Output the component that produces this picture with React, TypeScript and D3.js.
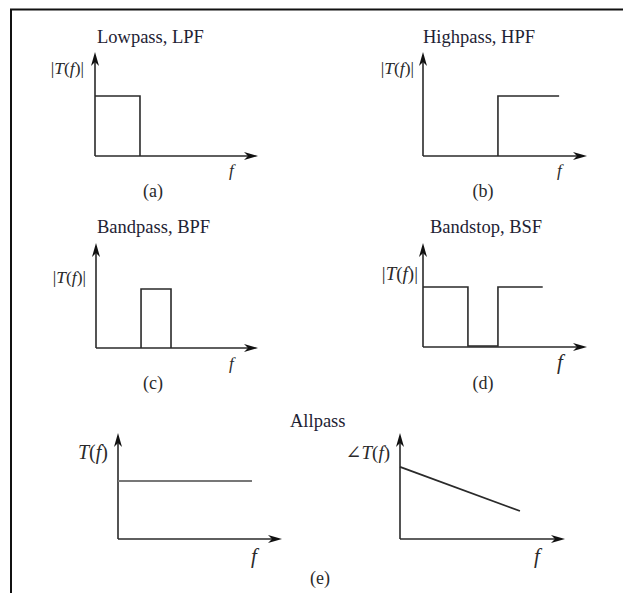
import React from 'react';
import * as d3 from 'd3';

// Response shapes, normalized: f runs 0..1 along the axis, magnitude 0..1 up the axis
const lowpass: [number, number][] = [[0, 0.577], [0.276, 0.577], [0.276, 0]];
const highpass: [number, number][] = [[0.457, 0], [0.457, 0.577], [0.83, 0.577]];
const bandpass: [number, number][] = [[0.278, 0], [0.278, 0.562], [0.463, 0.562], [0.463, 0]];
const bandstop: [number, number][] = [[0, 0.577], [0.274, 0.577], [0.274, 0.01], [0.457, 0.01], [0.457, 0.577], [0.73, 0.577]];
const allpassMag: [number, number][] = [[0, 0.547], [0.817, 0.547]];
const allpassPhase: [number, number][] = [[0, 0.68], [0.727, 0.264]];

const titles = ['Lowpass, LPF', 'Highpass, HPF', 'Bandpass, BPF', 'Bandstop, BSF'];
const tags = ['(a)', '(b)', '(c)', '(d)'];

const INK = '#2a2a2a';
const FONT = '"Liberation Serif", "DejaVu Serif", serif';

type Panel = {
  data: [number, number][];
  x0: number; y0: number; xEnd: number; yTop: number;
  stroke?: string; width?: number;
  label: 'abs' | 'plain' | 'angle';
  labelX: number; labelY: number; labelSize?: number;
  fX: number; fY: number; fSize?: number;
};

const panels: Panel[] = [
  { data: lowpass, x0: 95, y0: 156, xEnd: 258, yTop: 52, label: 'abs', labelX: 84, labelY: 74, fX: 229, fY: 176 },
  { data: highpass, x0: 423, y0: 156, xEnd: 587, yTop: 52, label: 'abs', labelX: 414, labelY: 74, fX: 557, fY: 176 },
  { data: bandpass, x0: 96, y0: 348, xEnd: 258, yTop: 243, label: 'abs', labelX: 86, labelY: 283, fX: 229, fY: 369 },
  { data: bandstop, x0: 423, y0: 347, xEnd: 587, yTop: 243, label: 'abs', labelX: 418, labelY: 280, labelSize: 19, fX: 557, fY: 369, fSize: 21 },
  { data: allpassMag, x0: 118, y0: 539, xEnd: 282, yTop: 433, stroke: '#777', width: 2, label: 'plain', labelX: 108, labelY: 459, labelSize: 20, fX: 251, fY: 563, fSize: 21 },
  { data: allpassPhase, x0: 400, y0: 539, xEnd: 565, yTop: 433, width: 1.8, label: 'angle', labelX: 390, labelY: 459, labelSize: 19, fX: 534, fY: 563, fSize: 21 },
];

const arrowHead = (tx: number, ty: number, dir: 'up' | 'right') => {
  const L = 14, W = 4, notch = 4;
  if (dir === 'right') {
    return `M${tx},${ty} L${tx - L},${ty - W} L${tx - L + notch},${ty} L${tx - L},${ty + W} Z`;
  }
  return `M${tx},${ty} L${tx - W},${ty + L} L${tx},${ty + L - notch} L${tx + W},${ty + L} Z`;
};

const AxisLabel = ({ p }: { p: Panel }) => {
  const size = p.labelSize || 17.5;
  const it = { fontStyle: 'italic' as const };
  if (p.label === 'abs') {
    return (
      <text x={p.labelX} y={p.labelY} textAnchor="end" fontSize={size} fontFamily={FONT} fill={INK}>
        |<tspan {...it}>T</tspan>(<tspan {...it}>f</tspan>)|
      </text>
    );
  }
  if (p.label === 'angle') {
    return (
      <text x={p.labelX} y={p.labelY} textAnchor="end" fontSize={size} fontFamily={FONT} fill={INK}>
        ∠<tspan {...it}>T</tspan>(<tspan {...it}>f</tspan>)
      </text>
    );
  }
  return (
    <text x={p.labelX} y={p.labelY} textAnchor="end" fontSize={size} fontFamily={FONT} fill={INK}>
      <tspan {...it}>T</tspan>(<tspan {...it}>f</tspan>)
    </text>
  );
};

const PanelPlot = ({ p }: { p: Panel }) => {
  const x = d3.scaleLinear().domain([0, 1]).range([p.x0, p.xEnd]);
  const y = d3.scaleLinear().domain([0, 1]).range([p.y0, p.yTop]);
  const line = d3.line<[number, number]>().x(d => x(d[0])).y(d => y(d[1]));
  return (
    <g>
      <line x1={x(0)} y1={y(0)} x2={x(1) - 8} y2={y(0)} stroke={INK} strokeWidth={1.6} />
      <line x1={x(0)} y1={y(0)} x2={x(0)} y2={y(1) + 8} stroke={INK} strokeWidth={1.6} />
      <path d={arrowHead(x(1), y(0), 'right')} fill="#111" />
      <path d={arrowHead(x(0), y(1), 'up')} fill="#111" />
      <path d={line(p.data) || ''} fill="none" stroke={p.stroke || INK} strokeWidth={p.width || 1.6} />
      <AxisLabel p={p} />
      <text x={p.fX} y={p.fY} fontSize={p.fSize || 17} fontStyle="italic" fontFamily={FONT} fill={INK}>f</text>
    </g>
  );
};

export default function App() {
  const titlePos = [[97, 43], [423, 43], [97, 233], [430, 233]];
  const tagPos = [[153, 197], [483, 197], [153, 389], [483, 389]];
  return (
    <svg width={623} height={593} style={{ position: 'absolute', left: 0, top: 0, background: '#fff' }}>
      <rect width={623} height={593} fill="#fff" />
      {/* frame: only the top and left edges are visible */}
      <path d="M11,593 L11,9.5 L623,9.5" fill="none" stroke="#111" strokeWidth={2} />
      {titles.map((t, i) => (
        <text key={t} x={titlePos[i][0]} y={titlePos[i][1]} fontSize={18.5} fontFamily={FONT} fill="#1e2233">{t}</text>
      ))}
      {tags.map((t, i) => (
        <text key={t} x={tagPos[i][0]} y={tagPos[i][1]} textAnchor="middle" fontSize={18} fontFamily={FONT} fill={INK}>{t}</text>
      ))}
      <text x={290} y={427} fontSize={18.5} fontFamily={FONT} fill="#1e2233">Allpass</text>
      <text x={320} y={584} textAnchor="middle" fontSize={18} fontFamily={FONT} fill={INK}>(e)</text>
      {panels.map((p, i) => <PanelPlot key={i} p={p} />)}
    </svg>
  );
}
